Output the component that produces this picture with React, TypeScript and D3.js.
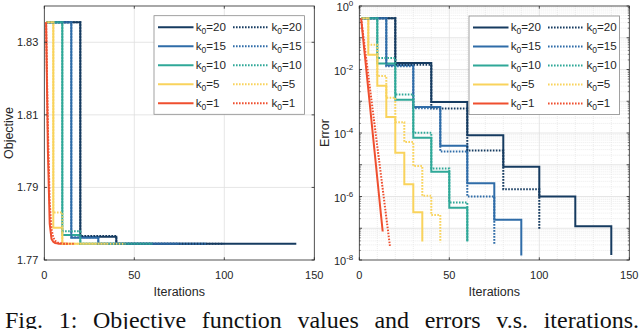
import React, { useLayoutEffect, useRef } from 'react';
import * as d3 from 'd3';

// ---------------- data ----------------
const kValues = [20, 15, 10, 5, 1];
const seriesColors = ['#163b60', '#2f6ca8', '#2fa898', '#f9d35c', '#ef4f2f'];

// Objective values: [iteration, value] (step series except k0=1)
const objSolid20 = [[1, 1.8355], [20, 1.7764], [40, 1.7745], [140, 1.7745]];
const objSolid15 = [[1, 1.8355], [15, 1.7761], [30, 1.7745], [90, 1.7745]];
const objSolid10 = [[1, 1.8355], [10, 1.7769], [20, 1.7745], [60, 1.7745]];
const objSolid5 = [[1, 1.8355], [5, 1.7789], [10, 1.7745], [35, 1.7745]];
const objSolid1 = [[1, 1.8355], [2, 1.8], [3, 1.78], [4, 1.7758], [5, 1.775], [6, 1.7747], [7, 1.7746], [8, 1.7745], [13, 1.7745]];
const objDot20 = [[1, 1.8355], [20, 1.7766], [40, 1.7745], [100, 1.7745]];
const objDot15 = [[1, 1.8355], [15, 1.7763], [30, 1.7745], [75, 1.7745]];
const objDot10 = [[1, 1.8355], [10, 1.7779], [20, 1.7745], [60, 1.7745]];
const objDot5 = [[1, 1.8355], [5, 1.7831], [10, 1.7745], [45, 1.7745]];
const objDot1 = [[1, 1.8355], [2, 1.806], [3, 1.786], [4, 1.7785], [5, 1.7762], [6, 1.7753], [7, 1.7749], [8, 1.7747], [9, 1.7746], [10, 1.7745], [17, 1.7745]];

// Errors: [iteration, error]
const errSolid20 = [[1, 4.1e-1], [20, 1.6e-2], [40, 9.5e-4], [60, 8.5e-5], [80, 8.7e-6], [100, 1.0e-6], [120, 1.15e-7], [140, 1.45e-8]];
const errSolid15 = [[1, 4.1e-1], [15, 1.35e-2], [30, 6.6e-4], [45, 4.0e-5], [60, 2.6e-6], [75, 1.86e-7], [90, 1.38e-8]];
const errSolid10 = [[1, 4.1e-1], [10, 1.55e-2], [20, 1.12e-3], [30, 7.1e-5], [40, 6.0e-6], [50, 4.4e-7], [60, 3.8e-8]];
const errSolid5 = [[1, 4.1e-1], [5, 2.9e-2], [10, 3.1e-3], [15, 3.2e-4], [20, 2.4e-5], [25, 2.45e-6], [30, 3.2e-7], [35, 3.8e-8]];
const errSolid1 = [[1, 4.1e-1], [2, 1.12e-1], [3, 3.1e-2], [4, 8.5e-3], [5, 2.35e-3], [6, 6.5e-4], [7, 1.78e-4], [8, 4.9e-5], [9, 1.35e-5], [10, 3.7e-6], [11, 1.02e-6], [12, 2.8e-7], [13, 7.9e-8]];
const errDot20 = [[1, 4.1e-1], [20, 1.4e-2], [40, 5.9e-4], [60, 2.8e-5], [80, 1.7e-6], [100, 9.5e-8]];
const errDot15 = [[1, 4.1e-1], [15, 1.26e-2], [30, 6.0e-4], [45, 2.6e-5], [60, 1.0e-6], [75, 3.2e-8]];
const errDot10 = [[1, 4.1e-1], [10, 2.3e-2], [20, 1.62e-3], [30, 1.02e-4], [40, 7.6e-6], [50, 6.5e-7], [60, 4.0e-8]];
const errDot5 = [[1, 4.1e-1], [5, 6.0e-2], [10, 6.2e-3], [15, 1.29e-3], [20, 2.2e-4], [25, 5.2e-5], [30, 9.1e-6], [35, 1.05e-6], [40, 2.6e-7], [45, 3.6e-8]];
const errDot1 = [[1, 4.1e-1], [2, 1.45e-1], [3, 5.2e-2], [4, 1.86e-2], [5, 6.6e-3], [6, 2.35e-3], [7, 8.5e-4], [8, 3.0e-4], [9, 1.07e-4], [10, 3.8e-5], [11, 1.38e-5], [12, 4.9e-6], [13, 1.74e-6], [14, 6.2e-7], [15, 2.2e-7], [16, 7.9e-8], [17, 2.8e-8]];

const objSolid = [objSolid20, objSolid15, objSolid10, objSolid5, objSolid1];
const objDot = [objDot20, objDot15, objDot10, objDot5, objDot1];
const errSolid = [errSolid20, errSolid15, errSolid10, errSolid5, errSolid1];
const errDot = [errDot20, errDot15, errDot10, errDot5, errDot1];

const xTicks = [0, 50, 100, 150];
const objTicks = [1.77, 1.79, 1.81, 1.83];
const errTickExps = [0, -2, -4, -6, -8];
const captionText = 'Fig. 1: Objective function values and errors v.s. iterations.';

// ---------------- layout ----------------
const W = 640;
const H = 329;
const top = 6;
const bottom = 260;
const FONT = '"Liberation Sans", Arial, Helvetica, sans-serif';
const AX = '#262626';
const GRID = '#e0e0e0';
const MINOR = '#e4e4e4';

const xL = d3.scaleLinear().domain([0, 150]).range([44.3, 314.3]);
const yL = d3.scaleLinear().domain([1.77, 1.84]).range([bottom, top]);
const xR = d3.scaleLinear().domain([0, 150]).range([359.3, 629.3]);
const yR = d3.scaleLog().domain([1e-8, 1]).range([bottom, top]);

function pathFor(data: number[][], xs: any, ys: any, isStep: boolean) {
  const gen = d3
    .line<number[]>()
    .x((d) => xs(d[0]))
    .y((d) => ys(d[1]))
    .curve(isStep ? d3.curveStepAfter : d3.curveLinear);
  return gen(data) || '';
}

function Legend({ x0, y0 }: { x0: number; y0: number }) {
  const w = 150.5;
  const h = 98.6;
  return (
    <g>
      <rect x={x0} y={y0} width={w} height={h} fill="#fff" stroke="#8a8a8a" strokeWidth={0.8} />
      {kValues.map((k, i) => {
        const yy = y0 + 11.5 + i * 19;
        const label = (tx: number) => (
          <text x={tx} y={yy + 3.8} fontSize={11.6} fontFamily={FONT} fill={AX}>
            <tspan>k</tspan>
            <tspan dy={3} fontSize={8.5}>0</tspan>
            <tspan dy={-3}>={k}</tspan>
          </text>
        );
        return (
          <g key={k}>
            <line x1={x0 + 4} x2={x0 + 39.5} y1={yy} y2={yy} stroke={seriesColors[i]} strokeWidth={2} />
            {label(x0 + 41.7)}
            <line x1={x0 + 79} x2={x0 + 113.5} y1={yy} y2={yy} stroke={seriesColors[i]} strokeWidth={2} strokeDasharray="1.6,1.4" />
            {label(x0 + 117.5)}
          </g>
        );
      })}
    </g>
  );
}

function LeftChart() {
  const x0 = xL.range()[0];
  const x1 = xL.range()[1];
  return (
    <g>
      <defs>
        <clipPath id="clipL">
          <rect x={x0} y={top} width={x1 - x0} height={bottom - top} />
        </clipPath>
      </defs>
      {xTicks.slice(1, -1).map((t) => (
        <line key={'gx' + t} x1={xL(t)} x2={xL(t)} y1={top} y2={bottom} stroke={GRID} strokeWidth={0.8} />
      ))}
      {objTicks.slice(1).map((t) => (
        <line key={'gy' + t} x1={x0} x2={x1} y1={yL(t)} y2={yL(t)} stroke={GRID} strokeWidth={0.8} />
      ))}
      <g clipPath="url(#clipL)" fill="none">
        {objSolid.map((d, i) => (
          <path key={'s' + i} d={pathFor(d, xL, yL, i < 4)} stroke={seriesColors[i]} strokeWidth={2} />
        ))}
        {objDot.map((d, i) => (
          <path key={'d' + i} d={pathFor(d, xL, yL, i < 4)} stroke={seriesColors[i]} strokeWidth={2} strokeDasharray="1.6,1.4" />
        ))}
      </g>
      <rect x={x0} y={top} width={x1 - x0} height={bottom - top} fill="none" stroke={AX} strokeWidth={0.8} />
      {xTicks.map((t) => (
        <g key={'xt' + t}>
          <line x1={xL(t)} x2={xL(t)} y1={bottom} y2={bottom - 2.7} stroke={AX} strokeWidth={0.8} />
          <line x1={xL(t)} x2={xL(t)} y1={top} y2={top + 2.7} stroke={AX} strokeWidth={0.8} />
          <text x={xL(t)} y={279} textAnchor="middle" fontSize={11} fontFamily={FONT} fill={AX}>
            {t}
          </text>
        </g>
      ))}
      {objTicks.map((t) => (
        <g key={'yt' + t}>
          <line x1={x0} x2={x0 + 2.7} y1={yL(t)} y2={yL(t)} stroke={AX} strokeWidth={0.8} />
          <line x1={x1} x2={x1 - 2.7} y1={yL(t)} y2={yL(t)} stroke={AX} strokeWidth={0.8} />
          <text x={x0 - 6} y={yL(t) + 4} textAnchor="end" fontSize={11} fontFamily={FONT} fill={AX}>
            {t.toFixed(2)}
          </text>
        </g>
      ))}
      <text x={(x0 + x1) / 2} y={295.5} textAnchor="middle" fontSize={12.5} fontFamily={FONT} fill={AX}>
        Iterations
      </text>
      <text transform={`translate(12.5,${(top + bottom) / 2}) rotate(-90)`} textAnchor="middle" fontSize={12.5} fontFamily={FONT} fill={AX}>
        Objective
      </text>
      <Legend x0={154} y0={15.7} />
    </g>
  );
}

function RightChart() {
  const x0 = xR.range()[0];
  const x1 = xR.range()[1];
  const decades = d3.range(-8, 1);
  const minors: number[] = [];
  decades.slice(0, -1).forEach((e) => {
    for (let m = 2; m <= 9; m++) minors.push(m * Math.pow(10, e));
  });
  const xMinor = d3.range(10, 150, 10).filter((v) => v % 50 !== 0);
  return (
    <g>
      <defs>
        <clipPath id="clipR">
          <rect x={x0} y={top} width={x1 - x0} height={bottom - top} />
        </clipPath>
      </defs>
      {minors.map((v, i) => (
        <line key={'mn' + i} x1={x0} x2={x1} y1={yR(v)} y2={yR(v)} stroke={MINOR} strokeWidth={0.7} strokeDasharray="1,1" />
      ))}
      {xMinor.map((v) => (
        <line key={'mx' + v} x1={xR(v)} x2={xR(v)} y1={top} y2={bottom} stroke={MINOR} strokeWidth={0.7} strokeDasharray="1,1" />
      ))}
      {decades.slice(1, -1).map((e) => (
        <line key={'gd' + e} x1={x0} x2={x1} y1={yR(Math.pow(10, e))} y2={yR(Math.pow(10, e))} stroke={GRID} strokeWidth={0.8} />
      ))}
      {xTicks.slice(1, -1).map((t) => (
        <line key={'gx' + t} x1={xR(t)} x2={xR(t)} y1={top} y2={bottom} stroke={GRID} strokeWidth={0.8} />
      ))}
      <g clipPath="url(#clipR)" fill="none">
        {errSolid.map((d, i) => (
          <path key={'s' + i} d={pathFor(d, xR, yR, i < 4)} stroke={seriesColors[i]} strokeWidth={2} />
        ))}
        {errDot.map((d, i) => (
          <path key={'d' + i} d={pathFor(d, xR, yR, i < 4)} stroke={seriesColors[i]} strokeWidth={2} strokeDasharray="1.6,1.4" />
        ))}
      </g>
      <rect x={x0} y={top} width={x1 - x0} height={bottom - top} fill="none" stroke={AX} strokeWidth={0.8} />
      {minors.map((v, i) => (
        <g key={'mt' + i}>
          <line x1={x0} x2={x0 + 1.5} y1={yR(v)} y2={yR(v)} stroke={AX} strokeWidth={0.6} />
          <line x1={x1} x2={x1 - 1.5} y1={yR(v)} y2={yR(v)} stroke={AX} strokeWidth={0.6} />
        </g>
      ))}
      {decades.map((e) => (
        <g key={'dt' + e}>
          <line x1={x0} x2={x0 + 2.7} y1={yR(Math.pow(10, e))} y2={yR(Math.pow(10, e))} stroke={AX} strokeWidth={0.8} />
          <line x1={x1} x2={x1 - 2.7} y1={yR(Math.pow(10, e))} y2={yR(Math.pow(10, e))} stroke={AX} strokeWidth={0.8} />
        </g>
      ))}
      {xTicks.map((t) => (
        <g key={'xt' + t}>
          <line x1={xR(t)} x2={xR(t)} y1={bottom} y2={bottom - 2.7} stroke={AX} strokeWidth={0.8} />
          <line x1={xR(t)} x2={xR(t)} y1={top} y2={top + 2.7} stroke={AX} strokeWidth={0.8} />
          <text x={xR(t)} y={279} textAnchor="middle" fontSize={11} fontFamily={FONT} fill={AX}>
            {t}
          </text>
        </g>
      ))}
      {errTickExps.map((e) => (
        <text key={'yl' + e} x={x0 - 6} y={yR(Math.pow(10, e)) + 5} textAnchor="end" fontSize={11} fontFamily={FONT} fill={AX}>
          <tspan>10</tspan>
          <tspan dy={-5} fontSize={8}>{e === 0 ? '0' : String(e)}</tspan>
        </text>
      ))}
      <text x={(x0 + x1) / 2} y={295.5} textAnchor="middle" fontSize={12.5} fontFamily={FONT} fill={AX}>
        Iterations
      </text>
      <text transform={`translate(329,${(top + bottom) / 2}) rotate(-90)`} textAnchor="middle" fontSize={12.5} fontFamily={FONT} fill={AX}>
        Error
      </text>
      <Legend x0={469} y0={16} />
    </g>
  );
}

export default function App() {
  const capRef = useRef<SVGTextElement>(null);
  useLayoutEffect(() => {
    const el = capRef.current;
    if (!el) return;
    el.setAttribute('word-spacing', '0');
    const w = el.getComputedTextLength();
    const spaces = captionText.split(' ').length - 1;
    const target = 634;
    el.setAttribute('word-spacing', String((target - w) / spaces));
  }, []);
  return (
    <svg width={W} height={H} style={{ position: 'absolute', left: 0, top: 0, background: '#fff' }}>
      <rect x={0} y={0} width={W} height={H} fill="#fff" />
      <LeftChart />
      <RightChart />
      <text ref={capRef} x={5} y={328} fontSize={24} fontFamily='"Liberation Serif", "Times New Roman", serif' fill="#111">
        {captionText}
      </text>
    </svg>
  );
}
